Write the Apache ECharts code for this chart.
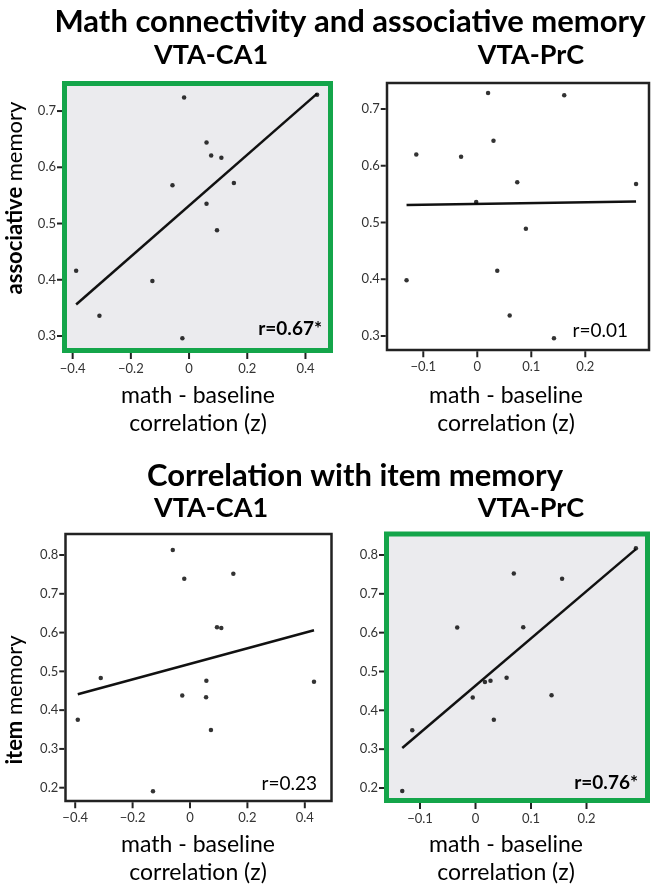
<!DOCTYPE html>
<html>
<head>
<meta charset="utf-8">
<script src="https://cdn.jsdelivr.net/npm/echarts@6/dist/echarts.min.js"></script>
<style>
  html, body { margin: 0; padding: 0; background: #fff; }
  #chart { width: 656px; height: 885px; }
</style>
</head>
<body>
<div id="chart"></div>
<script>
// math - baseline correlation (z) against memory, one dot per subject
const assocCA1X = [-0.388, -0.308, -0.126, -0.057, -0.017, -0.023, 0.060, 0.076, 0.111, 0.060, 0.096, 0.154, 0.440];
const assocCA1Y = [0.416, 0.336, 0.398, 0.568, 0.724, 0.296, 0.644, 0.621, 0.617, 0.535, 0.488, 0.572, 0.729];
const assocCA1Fit = [[-0.388, 0.356], [0.440, 0.731]];

const assocPrCX = [-0.131, -0.113, -0.030, -0.002, 0.020, 0.030, 0.037, 0.060, 0.074, 0.090, 0.142, 0.161, 0.294];
const assocPrCY = [0.398, 0.620, 0.616, 0.536, 0.728, 0.644, 0.415, 0.336, 0.571, 0.489, 0.296, 0.724, 0.568];
const assocPrCFit = [[-0.131, 0.531], [0.294, 0.537]];

const itemCA1X = [-0.391, -0.311, -0.129, -0.060, -0.020, -0.027, 0.057, 0.056, 0.073, 0.094, 0.109, 0.151, 0.432];
const itemCA1Y = [0.375, 0.483, 0.191, 0.813, 0.739, 0.438, 0.476, 0.433, 0.349, 0.614, 0.612, 0.752, 0.473];
const itemCA1Fit = [[-0.391, 0.441], [0.432, 0.606]];

const itemPrCX = [-0.132, -0.114, -0.033, -0.005, 0.017, 0.027, 0.033, 0.056, 0.069, 0.086, 0.137, 0.156, 0.289];
const itemPrCY = [0.192, 0.349, 0.613, 0.433, 0.473, 0.476, 0.376, 0.484, 0.752, 0.614, 0.439, 0.739, 0.817];
const itemPrCFit = [[-0.132, 0.303], [0.289, 0.815]];

const ticksCA1 = [-0.4, -0.2, 0, 0.2, 0.4];
const ticksPrC = [-0.1, 0, 0.1, 0.2];
const ticksAssoc = [0.3, 0.4, 0.5, 0.6, 0.7];
const ticksItem = [0.2, 0.3, 0.4, 0.5, 0.6, 0.7, 0.8];

const rLabels = ['r=0.67*', 'r=0.01', 'r=0.23', 'r=0.76*'];

const FONT = 'Lato';
const GREEN = '#14a54a';
const GREY_BG = '#ebebee';
const TICK_COLOR = '#222';

const panels = [
  { xs: assocCA1X, ys: assocCA1Y, fit: assocCA1Fit, xt: ticksCA1, yt: ticksAssoc, sig: true,
    grid: { left: 64.5, top: 83.5, width: 266, height: 267 }, xr: [-0.428, 0.486], yr: [0.2742, 0.749] },
  { xs: assocPrCX, ys: assocPrCY, fit: assocPrCFit, xt: ticksPrC, yt: ticksAssoc, sig: false,
    grid: { left: 387, top: 83, width: 262, height: 267 }, xr: [-0.1672, 0.318], yr: [0.2753, 0.7458] },
  { xs: itemCA1X, ys: itemCA1Y, fit: itemCA1Fit, xt: ticksCA1, yt: ticksItem, sig: false,
    grid: { left: 65.5, top: 534, width: 266, height: 267 }, xr: [-0.4338, 0.493], yr: [0.1657, 0.8542] },
  { xs: itemPrCX, ys: itemPrCY, fit: itemPrCFit, xt: ticksPrC, yt: ticksItem, sig: true,
    grid: { left: 386.5, top: 534, width: 261, height: 266.5 }, xr: [-0.1604, 0.3099], yr: [0.1678, 0.854] },
];

const fmt = v => (v === 0 ? '0' : String(v).replace('-', '\u2212'));

// short outward tick marks, placed through the panel's own axes
const tickSeries = (i, data, dir, start, len) => ({
  type: 'custom', xAxisIndex: i, yAxisIndex: i, clip: false, silent: true, z: 6,
  data,
  renderItem: (params, api) => {
    const pt = api.coord([api.value(0), api.value(1)]);
    const from = dir === 'x' ? [pt[0], pt[1] + start] : [pt[0] - start, pt[1]];
    const to = dir === 'x' ? [pt[0], pt[1] + start + len] : [pt[0] - start - len, pt[1]];
    return {
      type: 'line',
      shape: { x1: from[0], y1: from[1], x2: to[0], y2: to[1] },
      style: { stroke: TICK_COLOR, lineWidth: 2 },
    };
  },
});

const grids = [], xAxes = [], yAxes = [], series = [];
panels.forEach((p, i) => {
  const frameW = p.sig ? 5 : 2.5;
  grids.push({
    ...p.grid,
    show: true,
    backgroundColor: p.sig ? GREY_BG : '#fff',
    borderColor: p.sig ? GREEN : '#222',
    borderWidth: frameW,
  });
  xAxes.push({
    type: 'value', gridIndex: i, min: p.xr[0], max: p.xr[1], position: 'bottom',
    axisLine: { show: false, onZero: false },
    splitLine: { show: false },
    axisTick: { show: false },
    axisLabel: { customValues: p.xt, formatter: fmt, margin: frameW / 2 + 9, color: '#333', fontSize: 13, fontFamily: FONT },
  });
  yAxes.push({
    type: 'value', gridIndex: i, min: p.yr[0], max: p.yr[1], position: 'left',
    axisLine: { show: false, onZero: false },
    splitLine: { show: false },
    axisTick: { show: false },
    axisLabel: { customValues: p.yt, formatter: fmt, margin: frameW / 2 + 6, color: '#333', fontSize: 13, fontFamily: FONT },
  });
  series.push({
    type: 'scatter', xAxisIndex: i, yAxisIndex: i,
    symbolSize: 4.5, itemStyle: { color: '#000' },
    data: p.xs.map((x, k) => [x, p.ys[k]]),
    z: 3,
  });
  series.push({
    type: 'line', xAxisIndex: i, yAxisIndex: i,
    symbol: 'none', lineStyle: { color: '#111', width: 2.5 },
    data: p.fit,
    z: 2,
  });
  series.push(tickSeries(i, p.xt.map(v => [v, p.yr[0]]), 'x', frameW / 2, 6));
  series.push(tickSeries(i, p.yt.map(v => [p.xr[0], v]), 'y', frameW / 2, 5));
});

const text = (x, y, str, size, bold, extra) => ({
  type: 'text', x, y,
  style: Object.assign({
    text: str, fill: '#000', font: (bold ? 'bold ' : '') + size + 'px ' + FONT,
    textAlign: 'center', textVerticalAlign: 'middle',
  }, extra || {}),
  z: 10,
});

const yName = (x, y, bold, rest) => ({
  type: 'text', x, y, rotation: Math.PI / 2,
  style: {
    text: '{b|' + bold + '} ' + rest,
    fill: '#000', fontFamily: FONT, fontSize: 22,
    textAlign: 'center', textVerticalAlign: 'middle',
    rich: { b: { fontWeight: 'bold', fontSize: 22, fontFamily: FONT, fill: '#000' } },
  },
  z: 10,
});

const xName = 'math - baseline\ncorrelation (z)';

const graphic = [
  text(350, 22, 'Math connectivity and associative memory', 31, true),
  text(211, 55, 'VTA-CA1', 27, true),
  text(531, 55, 'VTA-PrC', 27, true),
  text(355, 476, 'Correlation with item memory', 31, true),
  text(211, 508, 'VTA-CA1', 27, true),
  text(531, 508, 'VTA-PrC', 27, true),
  text(198, 410, xName, 23, false, { lineHeight: 28 }),
  text(506, 410, xName, 23, false, { lineHeight: 28 }),
  text(198, 859, xName, 23, false, { lineHeight: 28 }),
  text(506, 859, xName, 23, false, { lineHeight: 28 }),
  yName(15, 198, 'associative', 'memory'),
  yName(15, 700, 'item', 'memory'),
  text(322, 329, rLabels[0], 19, true, { textAlign: 'right' }),
  text(628, 331, rLabels[1], 19, false, { textAlign: 'right' }),
  text(317, 784, rLabels[2], 19, false, { textAlign: 'right' }),
  text(638, 783, rLabels[3], 19, true, { textAlign: 'right' }),
];

const chart = echarts.init(document.getElementById('chart'), null, { renderer: 'canvas' });
chart.setOption({
  animation: false,
  grid: grids,
  xAxis: xAxes,
  yAxis: yAxes,
  series,
  graphic,
});
</script>
</body>
</html>
